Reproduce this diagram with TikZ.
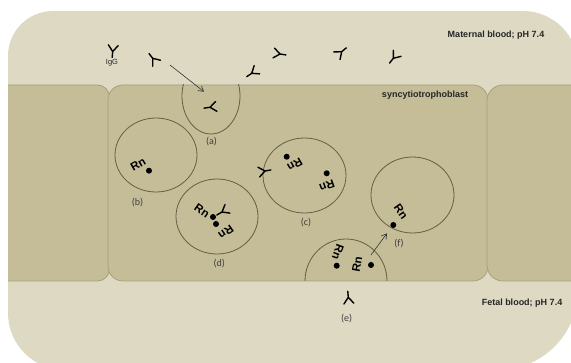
\documentclass[tikz,border=0pt]{standalone}
\usepackage{fontspec}
\setmainfont{Liberation Sans}
\newfontfamily\labelfont{Carlito}
\usetikzlibrary{arrows.meta}
\definecolor{plasma}{RGB}{221,217,195}
\definecolor{cellfill}{RGB}{196,189,151}
\definecolor{cellline}{RGB}{168,160,120}
\definecolor{vesline}{RGB}{100,95,70}
\definecolor{txt}{RGB}{38,38,38}
\definecolor{lbl}{RGB}{64,64,64}
\tikzset{
  cellbox/.style={fill=cellfill, draw=cellline, line width=0.8pt},
  vesicle/.style={draw=vesline, line width=0.8pt},
  abline/.style={line width=1.4pt, line cap=round, black},
  antibody/.pic={\draw[abline] (0,0)--(0,-6) (0,0)--(128:8) (0,0)--(52:8);},
  region/.style={font=\bfseries\fontsize{9}{10}\selectfont, text=txt, inner sep=0pt},
  tag/.style={font=\labelfont\fontsize{10}{11}\selectfont, text=lbl, inner sep=0pt},
  rn/.style={font=\bfseries\fontsize{11.5}{12}\selectfont, inner sep=0pt},
  move/.style={-{Straight Barb[length=5pt,width=6pt]}, line width=0.6pt, black!80}
}
\newcommand\rdot[1]{\fill[black] (#1) circle[radius=3];}
\begin{document}
\begin{tikzpicture}[x=1pt,y=1pt]
\useasboundingbox (0,0) rectangle (571,-363);
% blood space
\fill[plasma] (8,-56) arc[start angle=180,end angle=90,radius=45] -- (523,-11)
  arc[start angle=90,end angle=0,radius=55] -- (578,-290)
  arc[start angle=0,end angle=-90,radius=80] -- (65,-370)
  arc[start angle=-90,end angle=-180,radius=57] -- cycle;
% trophoblast cells
\begin{scope}
  \clip (8,0) rectangle (600,-400);
  \filldraw[cellbox, rounded corners=12] (-10,-85) rectangle (109.5,-281);
  \filldraw[cellbox, rounded corners=15] (108,-85) rectangle (488,-281);
  \filldraw[cellbox, rounded corners=16] (487,-85) rectangle (620,-281);
\end{scope}
% vesicles
\begin{scope}
  \clip (108,-85) rectangle (488,-300);
  \draw[vesicle] (211,-96) ellipse[x radius=29,y radius=38];
\end{scope}
\draw[vesicle] (156,-155) ellipse[x radius=41,y radius=37];
\draw[vesicle] (217,-216.5) ellipse[x radius=41,y radius=37.5];
\draw[vesicle] (304.5,-175.5) ellipse[x radius=41.5,y radius=37.5];
\draw[vesicle] (412.5,-195) ellipse[x radius=41.5,y radius=38];
\draw[vesicle] (305,-281) arc[start angle=180,end angle=0,x radius=41,y radius=42];
% labels
\node[region] (mat) at (496,-35) {Maternal blood; pH 7.4};
\node[region] (syn) at (425,-95) {syncytiotrophoblast};
\node[region] (fet) at (522,-303) {Fetal blood; pH 7.4};
\node[tag] (la) at (211.5,-142) {(a)};
\node[tag] (lb) at (137.5,-202.5) {(b)};
\node[tag] (lc) at (306,-222.5) {(c)};
\node[tag] (ld) at (219.3,-263.5) {(d)};
\node[tag] (le) at (346.7,-318.5) {(e)};
\node[tag] (lf) at (399,-243.5) {(f)};
% free antibodies
\pic[rotate=-5] at (112.7,-51.5) {antibody};
\node[font=\fontsize{7.5}{8}\selectfont, text=txt, inner sep=0pt] (igg) at (112,-62.5) {IgG};
\pic[rotate=-142] at (152.7,-58.3) {antibody};
\pic[rotate=-56] at (251.7,-73.3) {antibody};
\pic[rotate=81] at (280,-54) {antibody};
\pic[rotate=130] at (341.7,-51.7) {antibody};
\pic[rotate=-38] at (393.3,-58.3) {antibody};
\pic[rotate=-82] at (210,-107.3) {antibody};
\pic[rotate=185] at (348.3,-297.3) {antibody};
\pic[rotate=100] at (265,-171) {antibody};
\pic[rotate=-60] at (222,-212) {antibody};
% receptor complexes
\node[rn, rotate=30] (rb) at (138,-164) {Rn};
\rdot{149,-170.7}
\node[rn, rotate=-35] (rd1) at (202,-211) {Rn};
\rdot{213,-217}
\rdot{216,-224}
\node[rn, rotate=-145] (rd2) at (226,-232) {Rn};
\node[rn, rotate=-150] (rc1) at (295,-165) {Rn};
\rdot{286.7,-156.7}
\node[rn, rotate=-160] (rc2) at (327,-186) {Rn};
\rdot{326.7,-173.3}
\node[rn, rotate=-55] (rf) at (401,-212) {Rn};
\rdot{393.3,-225}
\node[rn, rotate=-110] (re1) at (338,-252) {Rn};
\rdot{336.7,-265.7}
\node[rn, rotate=80] (re2) at (357,-264) {Rn};
\rdot{371,-265}
% transport arrows
\coordinate (a0) at (170,-65);
\coordinate (a1) at (204,-91.7);
\draw[move] (a0) -- (a1);
\coordinate (e0) at (371,-255);
\coordinate (e1) at (387,-233.3);
\draw[move] (e0) -- (e1);
\end{tikzpicture}
\end{document}
